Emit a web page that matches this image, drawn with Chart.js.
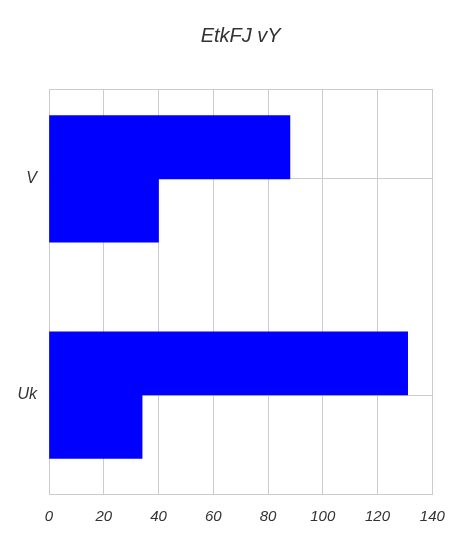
<!DOCTYPE html>
<html>
<head>
<meta charset="utf-8">
<script src="https://cdn.jsdelivr.net/npm/chart.js@4.4.1/dist/chart.umd.min.js"></script>
<style>
html,body{margin:0;padding:0;background:#fff;}
#wrap{width:462px;height:539px;}
</style>
</head>
<body>
<div id="wrap"><canvas id="c" width="462" height="539"></canvas></div>
<script>
const categories = ["V", "Uk"];
const series1 = [88, 131];
const series2 = [40, 34];
const xTicks = [0, 20, 40, 60, 80, 100, 120, 140];

const yMin = -0.4164, yMax = 1.4603;
const textColor = '#333333';
const gridColor = '#cccccc';

const toPoints = vals => vals.map((v, i) => ({x: v, y: i}));

new Chart(document.getElementById('c'), {
  type: 'bar',
  data: {
    datasets: [
      {data: toPoints(series1), backgroundColor: '#0000ff', borderWidth: 0, barThickness: 63.3},
      {data: toPoints(series2), backgroundColor: '#0000ff', borderWidth: 0, barThickness: 63.3}
    ]
  },
  options: {
    indexAxis: 'y',
    responsive: false,
    animation: false,
    devicePixelRatio: 1,
    layout: {padding: {left: 0, right: 29.7, top: 0, bottom: 0.5}},
    plugins: {
      legend: {display: false},
      tooltip: {enabled: false},
      title: {
        display: true,
        fullSize: false,
        text: 'EtkFJ vY',
        color: textColor,
        font: {family: 'Liberation Sans, Arial, sans-serif', size: 20, style: 'italic', weight: 'normal'},
        padding: {top: 24, bottom: 41}
      }
    },
    scales: {
      x: {
        type: 'linear',
        min: 0, max: 140,
        afterBuildTicks: s => { s.ticks = xTicks.map(v => ({value: v})); },
        grid: {color: gridColor, drawTicks: false, lineWidth: 1},
        border: {display: true, color: gridColor, width: 1},
        ticks: {
          color: textColor, padding: 13, maxRotation: 0,
          font: {family: 'Liberation Sans, Arial, sans-serif', size: 15, style: 'italic'}
        }
      },
      y: {
        type: 'linear',
        reverse: true,
        offset: false,
        min: yMin, max: yMax,
        afterBuildTicks: s => { s.ticks = [yMin, 0, 1, yMax].map(v => ({value: v})); },
        afterFit: s => { s.width = 49; },
        grid: {color: gridColor, drawTicks: false, lineWidth: 1, offset: false},
        border: {display: true, color: gridColor, width: 1},
        ticks: {
          color: textColor, padding: 12,
          autoSkip: false,
          callback: (v) => (v === 0 || v === 1) ? categories[v] : '',
          font: {family: 'Liberation Sans, Arial, sans-serif', size: 16, style: 'italic'}
        }
      }
    }
  }
});
</script>
</body>
</html>
